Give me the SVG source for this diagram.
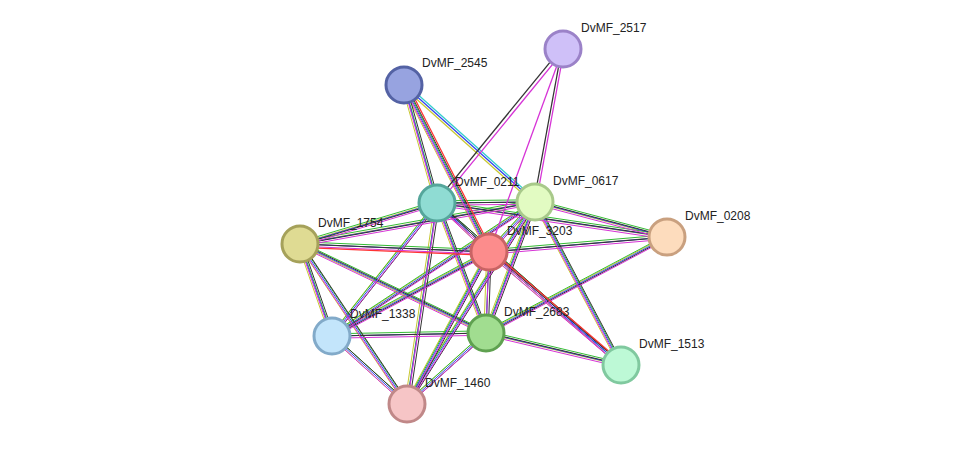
<svg xmlns="http://www.w3.org/2000/svg" width="976" height="450" viewBox="0 0 976 450">
<style>
.e line{stroke-width:1.3;fill:none}
.n circle{stroke-width:3}
text{font-family:"Liberation Sans",Arial,sans-serif;font-size:12px;fill:#222}
</style>
<defs>
<g id="all">
<line x1="489" y1="252" x2="404" y2="85"/><line x1="489" y1="252" x2="437" y2="203"/><line x1="489" y1="252" x2="535" y2="202"/><line x1="489" y1="252" x2="667" y2="237"/><line x1="489" y1="252" x2="300" y2="244"/><line x1="489" y1="252" x2="332" y2="336"/><line x1="489" y1="252" x2="486" y2="333"/><line x1="489" y1="252" x2="621" y2="365"/><line x1="489" y1="252" x2="407" y2="404"/>
<line x1="437" y1="203" x2="404" y2="85"/><line x1="437" y1="203" x2="535" y2="202"/><line x1="437" y1="203" x2="667" y2="237"/><line x1="437" y1="203" x2="300" y2="244"/><line x1="437" y1="203" x2="332" y2="336"/><line x1="437" y1="203" x2="486" y2="333"/><line x1="437" y1="203" x2="407" y2="404"/><line x1="437" y1="203" x2="621" y2="365"/>
<line x1="535" y1="202" x2="300" y2="244"/><line x1="535" y1="202" x2="667" y2="237"/><line x1="535" y1="202" x2="332" y2="336"/><line x1="535" y1="202" x2="486" y2="333"/><line x1="535" y1="202" x2="621" y2="365"/><line x1="535" y1="202" x2="407" y2="404"/>
<line x1="300" y1="244" x2="332" y2="336"/><line x1="300" y1="244" x2="486" y2="333"/><line x1="300" y1="244" x2="407" y2="404"/>
<line x1="332" y1="336" x2="486" y2="333"/><line x1="332" y1="336" x2="407" y2="404"/>
<line x1="486" y1="333" x2="407" y2="404"/><line x1="486" y1="333" x2="621" y2="365"/><line x1="486" y1="333" x2="667" y2="237"/>
</g>
</defs>
<rect width="976" height="450" fill="#fff"/>
<g id="connectors" class="e">
<use href="#all" stroke="#c8c832" transform="translate(-2.2,0)"/>
<use href="#all" stroke="#33bb33" transform="translate(0,-2.2)"/>
<use href="#all" stroke="#3344ee" transform="translate(0,0)"/>
<use href="#all" stroke="#333333" transform="translate(2.2,0)"/>
<use href="#all" stroke="#d633d6" transform="translate(0,2.2)"/>
<line x1="489" y1="252" x2="621" y2="365" stroke="#ff3333" transform="translate(3.3,-0.5)"/>
<line x1="489" y1="252" x2="404" y2="85" stroke="#ff3333" transform="translate(3.3,-1)"/>
<line x1="489" y1="252" x2="300" y2="244" stroke="#ff3333" transform="translate(0,3.4)"/>
<line x1="535" y1="202" x2="404" y2="85" stroke="#c8c832" transform="translate(-1.5,1.5)"/>
<line x1="535" y1="202" x2="404" y2="85" stroke="#3344ee"/>
<line x1="535" y1="202" x2="404" y2="85" stroke="#33cccc" transform="translate(1.5,-1.5)"/>
<line x1="563" y1="49" x2="437" y2="203" stroke="#333" transform="translate(-1.2,-1.2)"/>
<line x1="563" y1="49" x2="437" y2="203" stroke="#d633d6" transform="translate(1.2,1.2)"/>
<line x1="563" y1="49" x2="489" y2="252" stroke="#d633d6"/>
<line x1="563" y1="49" x2="535" y2="202" stroke="#333" transform="translate(-1.2,0)"/>
<line x1="563" y1="49" x2="535" y2="202" stroke="#d633d6" transform="translate(1.2,0)"/>
</g>
<g id="DvMF_2517" class="n"><circle cx="563" cy="49" r="18" fill="#cfc0f8" stroke="#9b82c8"/><text x="581" y="32">DvMF_2517</text></g>
<g id="DvMF_2545" class="n"><circle cx="404" cy="85" r="18" fill="#97a3e0" stroke="#5462a4"/><text x="422" y="67">DvMF_2545</text></g>
<g id="DvMF_0211" class="n"><circle cx="437" cy="203" r="18" fill="#8fdcd3" stroke="#55a69b"/><text x="455" y="186">DvMF_0211</text></g>
<g id="DvMF_0617" class="n"><circle cx="535" cy="202" r="18" fill="#e2fbc2" stroke="#a8c98a"/><text x="553" y="185">DvMF_0617</text></g>
<g id="DvMF_0208" class="n"><circle cx="667" cy="237" r="18" fill="#fddcbd" stroke="#c9a07f"/><text x="685" y="220">DvMF_0208</text></g>
<g id="DvMF_1754" class="n"><circle cx="300" cy="244" r="18" fill="#dfdb93" stroke="#a5a15a"/><text x="318" y="227">DvMF_1754</text></g>
<g id="DvMF_3203" class="n"><circle cx="489" cy="252" r="18" fill="#fc8c8c" stroke="#c96464"/><text x="507" y="235">DvMF_3203</text></g>
<g id="DvMF_1338" class="n"><circle cx="332" cy="336" r="18" fill="#c3e5fb" stroke="#82aac9"/><text x="350" y="318">DvMF_1338</text></g>
<g id="DvMF_2683" class="n"><circle cx="486" cy="333" r="18" fill="#a1dd90" stroke="#5fa150"/><text x="504" y="316">DvMF_2683</text></g>
<g id="DvMF_1513" class="n"><circle cx="621" cy="365" r="18" fill="#bdf9d6" stroke="#80c99f"/><text x="639" y="348">DvMF_1513</text></g>
<g id="DvMF_1460" class="n"><circle cx="407" cy="404" r="18" fill="#f6c5c6" stroke="#c08888"/><text x="425" y="387">DvMF_1460</text></g>
</svg>
